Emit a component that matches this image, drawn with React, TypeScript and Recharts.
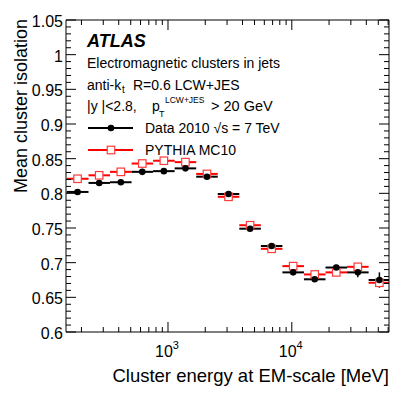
import React from 'react';
import { ComposedChart, Scatter, XAxis, YAxis, ErrorBar, Legend } from 'recharts';

// ---- data ----
const binLow = [152, 228, 340, 508, 758, 1132, 1690, 2523, 3768, 5626, 8400, 12540, 18730, 27960, 41750];
const binHigh = [228, 340, 508, 758, 1132, 1690, 2523, 3768, 5626, 8400, 12540, 18730, 27960, 41750, 61000];
const binCenter = [186, 278, 416, 620, 926, 1383, 2065, 3083, 4604, 6874, 10260, 15320, 22880, 34160, 51010];

const dataValues = [0.802, 0.815, 0.816, 0.831, 0.832, 0.836, 0.824, 0.799, 0.749, 0.724, 0.686, 0.676, 0.693, 0.686, 0.675];
const dataErrors = [0.001, 0.001, 0.001, 0.001, 0.001, 0.001, 0.001, 0.001, 0.001, 0.002, 0.002, 0.003, 0.004, 0.007, 0.011];
const mcValues = [0.821, 0.826, 0.831, 0.843, 0.847, 0.845, 0.828, 0.795, 0.754, 0.72, 0.695, 0.683, 0.686, 0.694, 0.671];

const xTicks = [200, 300, 400, 500, 600, 700, 800, 900, 1000, 2000, 3000, 4000, 5000, 6000, 7000, 8000, 9000, 10000, 20000, 30000, 40000, 50000, 60000];
const xMajorTicks = [1000, 10000];
const xMajorExponents = ['3', '4'];
const yMajorTicks = [0.6, 0.65, 0.7, 0.75, 0.8, 0.85, 0.9, 0.95, 1, 1.05];
const yMajorLabels = ['0.6', '0.65', '0.7', '0.75', '0.8', '0.85', '0.9', '0.95', '1', '1.05'];

const legendLabels = ['Data 2010 \u221As = 7 TeV', 'PYTHIA MC10'];

// tick list for y: all hundredths between 0.60 and 1.05
const yTicks: number[] = [];
for (let k = 60; k <= 105; k++) yTicks.push(k / 100);

const dataPoints = binCenter.map((x, i) => ({
  x,
  y: dataValues[i],
  xerr: [x - binLow[i], binHigh[i] - x],
  yerr: dataErrors[i],
}));
const mcPoints = binCenter.map((x, i) => ({
  x,
  y: mcValues[i],
  xerr: [x - binLow[i], binHigh[i] - x],
}));

const W = 411;
const H = 395;
const FONT = '"Liberation Sans", Arial, Helvetica, sans-serif';
const X_DOMAIN: [number, number] = [150, 61000];
const Y_DOMAIN: [number, number] = [0.6, 1.05];
const FRAME = '#000';
const MAJ = 10;
const MIN = 5;

const isYMajor = (v: number) => Math.abs(v * 20 - Math.round(v * 20)) < 1e-6;
const isXMajor = (v: number) => xMajorTicks.indexOf(v) >= 0;

const LeftTick = (p: any) => {
  const v = p.payload.value;
  const major = isYMajor(v);
  const idx = yMajorTicks.findIndex((t) => Math.abs(t - v) < 1e-6);
  return (
    <g>
      <line x1={p.x} y1={p.y} x2={p.x + (major ? MAJ : MIN)} y2={p.y} stroke={FRAME} strokeWidth={1} />
      {major && (
        <text x={p.x - 3} y={p.y + 7} textAnchor="end" fontSize={16} fontFamily={FONT} fill="#000">
          {yMajorLabels[idx]}
        </text>
      )}
    </g>
  );
};

const RightTick = (p: any) => {
  const v = p.payload.value;
  const major = isYMajor(v);
  return <line x1={p.x} y1={p.y} x2={p.x - (major ? MAJ : MIN)} y2={p.y} stroke={FRAME} strokeWidth={1} />;
};

const BottomTick = (p: any) => {
  const v = p.payload.value;
  const major = isXMajor(v);
  const idx = xMajorTicks.indexOf(v);
  return (
    <g>
      <line x1={p.x} y1={p.y} x2={p.x} y2={p.y - (major ? MAJ : MIN)} stroke={FRAME} strokeWidth={1} />
      {major && (
        <text x={p.x - 13} y={p.y + 25} textAnchor="start" fontSize={16} fontFamily={FONT} fill="#000">
          <tspan>10</tspan>
          <tspan dy={-8} fontSize={11}>{xMajorExponents[idx]}</tspan>
        </text>
      )}
    </g>
  );
};

const TopTick = (p: any) => {
  const v = p.payload.value;
  const major = isXMajor(v);
  return <line x1={p.x} y1={p.y} x2={p.x} y2={p.y + (major ? MAJ : MIN)} stroke={FRAME} strokeWidth={1} />;
};

const DataDot = (p: any) => <circle cx={p.cx} cy={p.cy} r={3.3} fill="#000" />;
const McSquare = (p: any) => (
  <rect x={p.cx - 3.75} y={p.cy - 3.75} width={7.5} height={7.5} fill="#fff" stroke="#ff3a3a" strokeWidth={1.2} />
);

const LegendContent = () => (
  <svg width={220} height={46} style={{ display: 'block', overflow: 'visible' }}>
    <line x1={0} y1={11} x2={45} y2={11} stroke="#000" strokeWidth={2} />
    <circle cx={23} cy={11} r={3.3} fill="#000" />
    <text x={57} y={16} fontSize={14} fontFamily={FONT} fill="#000">{legendLabels[0]}</text>
    <line x1={0} y1={33} x2={45} y2={33} stroke="#ff0000" strokeWidth={2} />
    <rect x={19.25} y={29.25} width={7.5} height={7.5} fill="#fff" stroke="#ff3a3a" strokeWidth={1.2} />
    <text x={57} y={38} fontSize={14} fontFamily={FONT} fill="#000">{legendLabels[1]}</text>
  </svg>
);

export default function App() {
  return (
    <div style={{ position: 'absolute', left: 0, top: 0, width: W, height: H, background: '#fff', fontFamily: FONT }}>
      <ComposedChart width={W} height={H} margin={{ top: 19, right: 21, bottom: 62, left: 65 }}>
        <XAxis
          xAxisId="b"
          dataKey="x"
          type="number"
          scale="log"
          domain={X_DOMAIN}
          allowDataOverflow
          ticks={xTicks}
          interval={0}
          tickSize={0}
          tickMargin={0}
          tickLine={false}
          tick={BottomTick}
          height={1}
          axisLine={{ stroke: FRAME }}
        />
        <XAxis
          xAxisId="t"
          orientation="top"
          dataKey="x"
          type="number"
          scale="log"
          domain={X_DOMAIN}
          allowDataOverflow
          ticks={xTicks}
          interval={0}
          tickSize={0}
          tickMargin={0}
          tickLine={false}
          tick={TopTick}
          height={1}
          axisLine={{ stroke: FRAME }}
        />
        <YAxis
          yAxisId="l"
          type="number"
          domain={Y_DOMAIN}
          allowDataOverflow
          ticks={yTicks}
          interval={0}
          tickSize={0}
          tickMargin={0}
          tickLine={false}
          tick={LeftTick}
          width={1}
          axisLine={{ stroke: FRAME }}
        />
        <YAxis
          yAxisId="r"
          orientation="right"
          type="number"
          domain={Y_DOMAIN}
          allowDataOverflow
          ticks={yTicks}
          interval={0}
          tickSize={0}
          tickMargin={0}
          tickLine={false}
          tick={RightTick}
          width={1}
          axisLine={{ stroke: FRAME }}
        />
        <Legend
          layout="vertical"
          align="center"
          verticalAlign="middle"
          content={LegendContent}
          wrapperStyle={{ position: 'absolute', left: 88, top: 117, width: 220, height: 46 }}
        />
        <Scatter
          name="PYTHIA MC10"
          data={mcPoints}
          xAxisId="b"
          yAxisId="l"
          dataKey="y"
          shape={McSquare}
          isAnimationActive={false}
        >
          <ErrorBar dataKey="xerr" direction="x" width={0} stroke="#ff0000" strokeWidth={2} isAnimationActive={false} />
        </Scatter>
        <Scatter
          name="Data 2010"
          data={dataPoints}
          xAxisId="b"
          yAxisId="l"
          dataKey="y"
          shape={DataDot}
          isAnimationActive={false}
        >
          <ErrorBar dataKey="xerr" direction="x" width={0} stroke="#000" strokeWidth={2} isAnimationActive={false} />
          <ErrorBar dataKey="yerr" direction="y" width={0} stroke="#000" strokeWidth={1.5} isAnimationActive={false} />
        </Scatter>
      </ComposedChart>
      <svg
        width={W}
        height={H}
        style={{ position: 'absolute', left: 0, top: 0, pointerEvents: 'none' }}
        fontFamily={FONT}
      >
        <text x={87} y={47} fontSize={18} fontWeight="bold" fontStyle="italic" fill="#000">ATLAS</text>
        <text x={87} y={68} fontSize={14} fill="#000">Electromagnetic clusters in jets</text>
        <text x={87} y={90} fontSize={14} fill="#000">anti-k</text>
        <text x={122} y={93} fontSize={10} fill="#000">t</text>
        <text x={133} y={90} fontSize={14} fill="#000">R=0.6 LCW+JES</text>
        <text x={87} y={111} fontSize={14} fill="#000">|y |&lt;2.8,</text>
        <text x={152} y={111} fontSize={14} fill="#000">p</text>
        <text x={159} y={117} fontSize={9} fill="#000">T</text>
        <text x={165} y={103} fontSize={8.5} fill="#000">LCW+JES</text>
        <text x={211} y={111} fontSize={14.5} fill="#000">&gt; 20 GeV</text>
        <text x={389} y={382} fontSize={18.5} textAnchor="end" fill="#000">Cluster energy at EM-scale [MeV]</text>
        <text
          x={0}
          y={0}
          fontSize={18}
          textAnchor="end"
          fill="#000"
          transform="translate(27 19) rotate(-90)"
        >
          Mean cluster isolation
        </text>
      </svg>
    </div>
  );
}
